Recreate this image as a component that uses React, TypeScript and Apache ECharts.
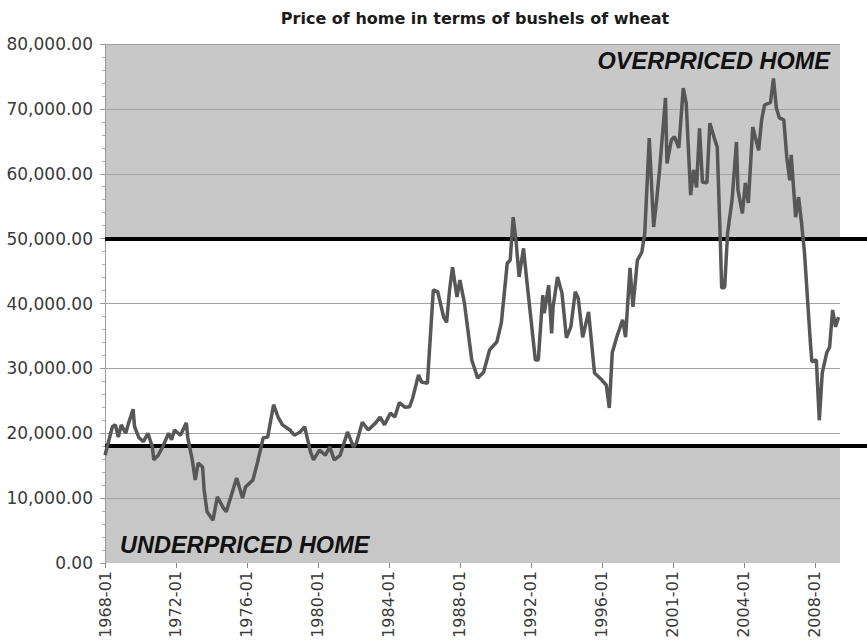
import React, { useEffect, useRef } from "react";
import * as echarts from "echarts";

const tickLabels = ["1968-01", "1972-01", "1976-01", "1980-01", "1984-01", "1988-01", "1992-01", "1996-01", "2001-01", "2004-01", "2008-01"];
const labelStep = 48;
const lastIndex = 497;

const monthIndex = [0,5,7,9,11,14,16,19,20,23,26,29,32,33,36,39,43,45,47,51,55,56,59,61,63,66,67,69,73,76,80,82,89,93,95,100,103,107,110,114,117,120,125,128,132,135,139,141,145,149,152,155,159,164,168,170,174,178,183,186,189,193,196,199,203,206,208,212,214,218,222,225,229,231,233,235,238,240,243,248,252,256,260,265,268,272,274,276,278,280,283,285,291,293,296,297,300,302,303,306,309,312,315,318,320,323,327,331,336,339,341,343,346,350,352,355,357,360,363,365,368,371,373,375,379,380,383,385,388,391,393,396,398,400,402,404,407,409,412,414,416,417,419,421,424,427,428,431,433,435,438,442,444,446,450,452,454,456,459,461,463,464,467,469,471,473,477,478,481,483,485,488,490,492,494,496];

const wheatPrice = [16600,21000,21300,19400,21300,20000,21600,23700,21000,19300,18700,20000,17900,15900,16600,17900,20000,19000,20500,19700,21600,19300,15900,12800,15400,14800,11300,7900,6600,10200,8500,7900,13100,10000,11700,12800,15400,19300,19400,24400,22500,21300,20500,19700,20200,21000,17100,15900,17400,16600,17900,15900,16600,20200,17900,18500,21700,20500,21600,22500,21300,23100,22500,24700,24000,24100,25400,29000,27900,27700,42100,41800,37900,37100,42100,45600,41000,43600,40100,31300,28500,29400,32800,34100,37000,46200,46700,53300,49500,44100,48500,44000,31300,31300,41300,38500,42800,35400,39500,44100,41600,34700,36400,41800,40800,34800,38700,29300,28200,27400,23900,32400,34800,37500,34800,45500,39500,46700,47900,50900,65500,51800,55900,60600,71700,61600,65200,65700,64000,73200,70900,56700,60600,57900,67000,58700,58600,67800,65500,64100,50200,42400,42500,50900,55900,64900,57500,53900,58600,55500,67200,63600,68300,70600,71000,74700,70100,68600,68300,62600,59000,62900,53300,56400,52400,47800,33900,31000,31300,22000,29300,32400,33300,39000,36400,37900];

const gridValues = [10000, 20000, 30000, 40000, 50000, 60000, 70000, 80000];
const overpricedLevel = 50000;
const underpricedLevel = 18000;
const yMax = 80000;

export default function App() {
  const ref = useRef<HTMLDivElement>(null);
  useEffect(() => {
    if (!ref.current) return;
    const chart = echarts.init(ref.current, null, { renderer: "svg" });
    const tickPositions = tickLabels.map((_, i) => i * labelStep);
    const xMax = lastIndex * (867 - 105) / (840 - 105);
    const data = monthIndex.map((m, i) => [m, wheatPrice[i]]);
    const gridLineItems = gridValues.map((v) => [
      { coord: [0, v], lineStyle: { color: "#a3a3a3", width: 1, type: "solid" } },
      { coord: [lastIndex, v] },
    ]);
    const thresholdItems = [overpricedLevel, underpricedLevel].map((v) => ({
      yAxis: v,
      lineStyle: { color: "#000000", width: 4, type: "solid" },
    }));
    chart.setOption({
      animation: false,
      backgroundColor: "#ffffff",
      grid: { left: 105, right: 0, top: 44, bottom: 79, containLabel: false },
      xAxis: {
        type: "value",
        min: 0,
        max: xMax,
        interval: labelStep,
        axisLine: { show: false },
        axisTick: { show: true, length: 5, lineStyle: { color: "#888" }, customValues: tickPositions },
        axisLabel: {
          rotate: 90,
          margin: 8,
          fontFamily: "DejaVu Sans",
          fontSize: 16,
          color: "#3a3a3a",
          customValues: tickPositions,
          formatter: (v: number) => {
            const k = Math.round(v / labelStep);
            return Math.abs(v - k * labelStep) < 0.01 && tickLabels[k] ? tickLabels[k] : "";
          },
        },
        splitLine: { show: false },
      },
      yAxis: {
        type: "value",
        min: 0,
        max: yMax,
        interval: 10000,
        axisLine: { show: true, lineStyle: { color: "#999", width: 1 } },
        axisTick: { show: true, length: 5, lineStyle: { color: "#999" } },
        minorTick: { show: true, splitNumber: 5, length: 3, lineStyle: { color: "#aaa" } },
        axisLabel: {
          margin: 12,
          fontFamily: "DejaVu Sans",
          fontSize: 17,
          color: "#3a3a3a",
          formatter: (v: number) => v.toLocaleString("en-US", { minimumFractionDigits: 2, maximumFractionDigits: 2 }),
        },
        splitLine: { show: false },
      },
      series: [
        {
          type: "line",
          data: [[0, overpricedLevel], [lastIndex, overpricedLevel]],
          silent: true,
          z: 0,
          symbol: "none",
          lineStyle: { width: 0, opacity: 0 },
          areaStyle: { color: "#c8c8c8", opacity: 1, origin: "end" },
        },
        {
          type: "line",
          data: [[0, underpricedLevel], [lastIndex, underpricedLevel]],
          silent: true,
          z: 0,
          symbol: "none",
          lineStyle: { width: 0, opacity: 0 },
          areaStyle: { color: "#c7c7c7", opacity: 1, origin: "start" },
          markLine: {
            silent: true,
            z: 1,
            symbol: "none",
            label: { show: false },
            data: [...gridLineItems, ...thresholdItems],
          },
        },
        {
          type: "line",
          data,
          z: 3,
          symbol: "none",
          lineStyle: { color: "#575757", width: 3.5 },
        },
      ],
      graphic: [
        {
          type: "text",
          x: 475,
          y: 18,
          style: {
            text: "Price of home in terms of bushels of wheat",
            font: "bold 16px 'DejaVu Sans'",
            fill: "#1a1a1a",
            textAlign: "center",
            textVerticalAlign: "middle",
          },
        },
        {
          type: "text",
          x: 830,
          y: 61,
          z: 10,
          style: {
            text: "OVERPRICED HOME",
            font: "italic bold 23.5px 'Liberation Sans'",
            fill: "#111",
            textAlign: "right",
            textVerticalAlign: "middle",
          },
        },
        {
          type: "text",
          x: 120,
          y: 545,
          z: 10,
          style: {
            text: "UNDERPRICED HOME",
            font: "italic bold 23.5px 'Liberation Sans'",
            fill: "#111",
            textAlign: "left",
            textVerticalAlign: "middle",
          },
        },
      ],
    });
    return () => chart.dispose();
  }, []);
  return <div ref={ref} style={{ width: 867, height: 642, position: "absolute", left: 0, top: 0 }} />;
}
